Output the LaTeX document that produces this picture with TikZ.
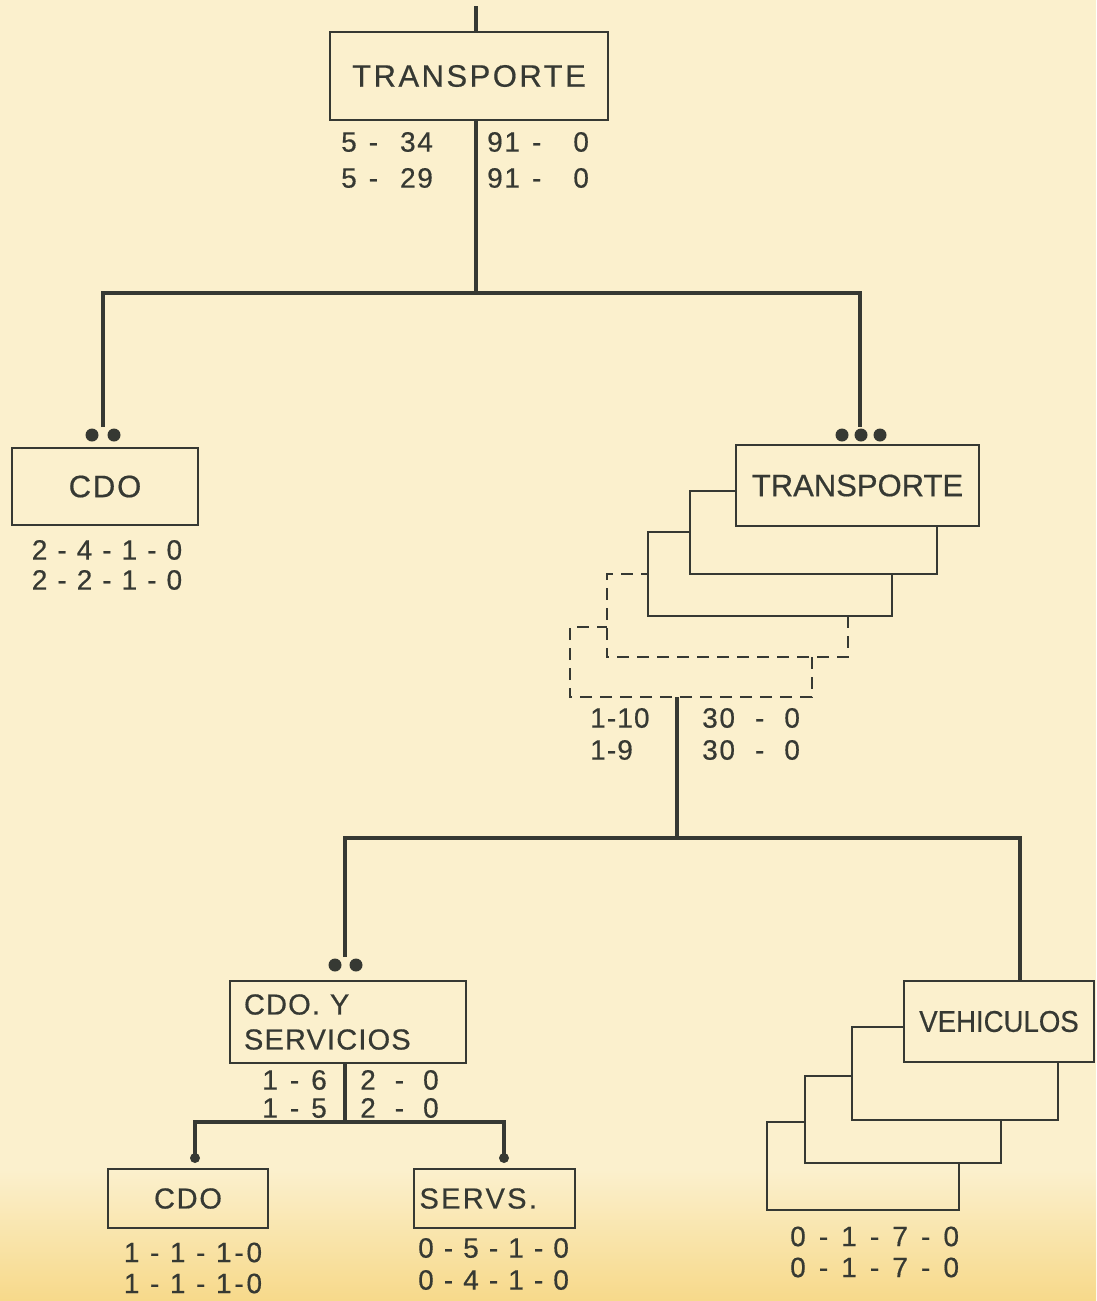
\documentclass[tikz,border=0pt]{standalone}
\usepackage{fontspec}
\setmainfont{Liberation Sans}[FakeBold=0.5]
\definecolor{ink}{HTML}{363933}
\definecolor{paper}{HTML}{FBF0CD}
\definecolor{paperlow}{HTML}{F7D98A}
\newcommand\gp[1]{\hspace*{#1pt}}
\begin{document}
\begin{tikzpicture}[x=1pt,y=-1pt,
 box/.style={draw=ink, line width=2pt, inner sep=0pt, text=ink, font=\fontsize{31}{36}\selectfont},
 ghost/.style={draw=none, inner sep=0pt},
 conn/.style={draw=ink, line width=4.5pt},
 thinline/.style={draw=ink, line width=2pt},
 dsh/.style={draw=ink, line width=1.8pt, dash pattern=on 12pt off 8pt},
 nums/.style={text=ink, inner sep=0pt, font=\fontsize{28}{36}\selectfont\addfontfeature{LetterSpace=6}},
 dotmark/.style={circle, fill=ink, inner sep=0pt, minimum size=13pt}]
\useasboundingbox (0,0) rectangle (1096,1301);
\fill[paper] (0,0) rectangle (1096,1301);
\shade[top color=paper, bottom color=paperlow] (0,1170) rectangle (1096,1301);

% ---------- level 0
\node[box, minimum width=278pt, minimum height=88pt, font=\fontsize{31}{36}\selectfont\addfontfeature{LetterSpace=8}] (top) at (469,76) {TRANSPORTE};
\coordinate (topin) at (476,6);
\draw[conn] (topin) -- (topin |- top.north);
\node[nums, align=left, anchor=west] (tl) at (341,160) {5\gp{12}-\gp{22}34\\5\gp{12}-\gp{22}29};
\node[nums, align=left, anchor=west] (tr) at (487,160) {91\gp{12}-\gp{32}0\\91\gp{12}-\gp{32}0};
\coordinate (bar1) at (476,293);
\coordinate (bar1l) at (103,293);
\coordinate (bar1r) at (860,293);
\draw[conn] (top.south -| bar1) -- (bar1);
\coordinate (end1l) at (103,427);
\coordinate (end1r) at (860,427);
\draw[conn] (end1l) -- (bar1l) -- (bar1r) -- (end1r);

% ---------- level 1 left
\node[dotmark] (d1a) at (92,435) {};
\node[dotmark] (d1b) at (114,435) {};
\node[box, minimum width=186pt, minimum height=77pt, font=\fontsize{31}{36}\selectfont\addfontfeature{LetterSpace=6}] (cdo1) at (105,486.5) {CDO};
\node[nums, align=left, font=\fontsize{28}{30}\selectfont\addfontfeature{LetterSpace=8}] (cdo1n) at (107,565) {2 - 4 - 1 - 0\\2 - 2 - 1 - 0};

% ---------- level 1 right (stack)
\node[dotmark] (d2a) at (842,435) {};
\node[dotmark] (d2b) at (861,435) {};
\node[dotmark] (d2c) at (880,435) {};
\node[box, minimum width=243pt, minimum height=81pt] (t1) at (857.5,485.5) {TRANSPORTE};
\node[ghost, minimum width=247pt, minimum height=83pt] (t2) at (813.5,532.5) {};
\node[ghost, minimum width=244pt, minimum height=84pt] (t3) at (770,574) {};
\node[ghost, minimum width=241pt, minimum height=83pt] (t4) at (727.5,615.5) {};
\node[ghost, minimum width=242pt, minimum height=70pt] (t5) at (691,662) {};
\draw[thinline] (t2.south east |- t1.south) -- (t2.south east) -- (t2.south west) -- (t2.north west) -- (t2.north west -| t1.west);
\draw[thinline] (t3.south east |- t2.south) -- (t3.south east) -- (t3.south west) -- (t3.north west) -- (t3.north west -| t2.west);
\draw[dsh] (t4.south east |- t3.south) -- (t4.south east) -- (t4.south west) -- (t4.north west) -- (t4.north west -| t3.west);
\draw[dsh] (t5.south east |- t4.south) -- (t5.south east) -- (t5.south west) -- (t5.north west) -- (t5.north west -| t4.west);
\node[nums, align=left, anchor=west, font=\fontsize{28}{32}\selectfont\addfontfeature{LetterSpace=4}] (sl) at (590,734) {1-10\\1-9};
\node[nums, align=left, anchor=west, font=\fontsize{28}{32}\selectfont\addfontfeature{LetterSpace=6}] (sr) at (702,734) {30\gp{20}-\gp{20}0\\30\gp{20}-\gp{20}0};
\coordinate (bar2) at (677,838);
\coordinate (bar2l) at (345,838);
\coordinate (bar2r) at (1020,838);
\draw[conn] (t5.south -| bar2) -- (bar2);
\coordinate (end2l) at (345,957);
\draw[conn] (end2l) -- (bar2l) -- (bar2r) -- (bar2r |- 0,981);

% ---------- level 2 left
\node[dotmark] (d3a) at (335,965) {};
\node[dotmark] (d3b) at (356,965) {};
\node[box, minimum width=236pt, minimum height=82pt, text width=208pt, align=left, inner xsep=14pt, font=\fontsize{29}{35}\selectfont\addfontfeature{LetterSpace=4}] (cys) at (348,1022) {CDO.\gp{10}Y\\SERVICIOS};
\node[nums, align=right, anchor=east, font=\fontsize{28}{28}\selectfont\addfontfeature{LetterSpace=6}] (cysl) at (327,1094) {1\gp{12}-\gp{12}6\\1\gp{12}-\gp{12}5};
\node[nums, align=left, anchor=west, font=\fontsize{28}{28}\selectfont\addfontfeature{LetterSpace=6}] (cysr) at (360,1094) {2\gp{19}-\gp{19}0\\2\gp{19}-\gp{19}0};
\coordinate (bar3) at (345,1122);
\coordinate (bar3l) at (195,1122);
\coordinate (bar3r) at (504,1122);
\draw[conn] (cys.south -| bar3) -- (bar3);
\node[dotmark, minimum size=10pt] (d4) at (195,1158) {};
\node[dotmark, minimum size=10pt] (d5) at (504,1158) {};
\draw[conn] (d4.center) -- (bar3l) -- (bar3r) -- (d5.center);

% ---------- level 3
\node[box, minimum width=160pt, minimum height=59pt, font=\fontsize{29}{35}\selectfont\addfontfeature{LetterSpace=6}] (cdo2) at (188,1198.5) {CDO};
\node[nums, align=left, font=\fontsize{28}{31}\selectfont\addfontfeature{LetterSpace=10}] (cdo2n) at (193,1268) {1 - 1 - 1-0\\1 - 1 - 1-0};
\node[box, minimum width=161pt, minimum height=59pt, text width=150pt, align=left, inner xsep=5.5pt, font=\fontsize{29}{35}\selectfont\addfontfeature{LetterSpace=8}] (servs) at (494.5,1198.5) {SERVS.};
\node[nums, align=left, anchor=west, font=\fontsize{28}{32}\selectfont\addfontfeature{LetterSpace=36}] (servsn) at (418,1264) {0-5-1-0\\0-4-1-0};

% ---------- level 2 right (stack)
\node[box, minimum width=190pt, minimum height=81pt, font=\fontsize{30}{34}\selectfont] (v1) at (999,1021.5) {\scalebox{0.92}[1]{VEHICULOS}};
\node[ghost, minimum width=206pt, minimum height=93pt] (v2) at (955,1073.5) {};
\node[ghost, minimum width=196pt, minimum height=87pt] (v3) at (903,1119.5) {};
\node[ghost, minimum width=192pt, minimum height=88pt] (v4) at (863,1166) {};
\draw[thinline] (v2.south east |- v1.south) -- (v2.south east) -- (v2.south west) -- (v2.north west) -- (v2.north west -| v1.west);
\draw[thinline] (v3.south east |- v2.south) -- (v3.south east) -- (v3.south west) -- (v3.north west) -- (v3.north west -| v2.west);
\draw[thinline] (v4.south east |- v3.south) -- (v4.south east) -- (v4.south west) -- (v4.north west) -- (v4.north west -| v3.west);
\node[nums, align=left, anchor=west, font=\fontsize{28}{31}\selectfont\addfontfeature{LetterSpace=19}] (vn) at (790,1252) {0 - 1 - 7 - 0\\0 - 1 - 7 - 0};
\end{tikzpicture}
\end{document}
